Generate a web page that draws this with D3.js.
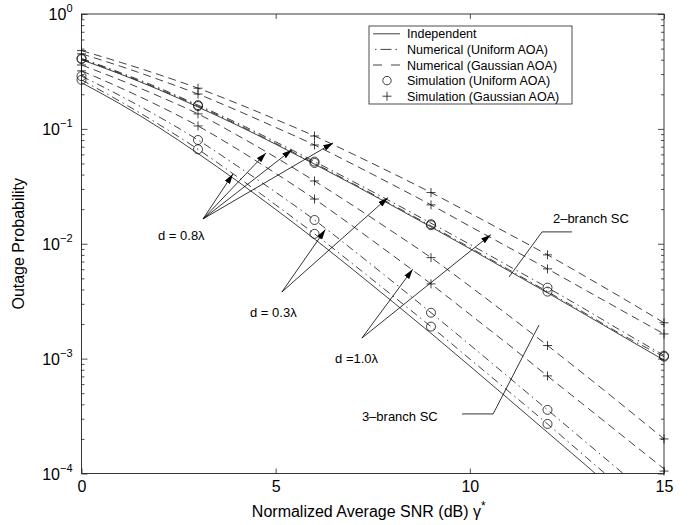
<!DOCTYPE html>
<html>
<head>
<meta charset="utf-8">
<script src="https://cdn.jsdelivr.net/npm/d3@7/dist/d3.min.js"></script>
<style>
  body { margin: 0; background: #fff; }
  svg text { font-family: "Liberation Sans", Arial, Helvetica, sans-serif; fill: #000; }
</style>
</head>
<body>
<div id="chart"></div>
<script>
// SNR grid of the numerical curves (dB)
const snr = [0, 1, 2, 3, 4, 5, 6, 7, 8, 9, 10, 11, 12, 13, 14, 15];
// SNR of the simulation points (dB)
const simSnr = [0, 3, 6, 9, 12, 15];

// 2-branch SC
const indep2 = [0.400, 0.300, 0.219, 0.155, 0.108, 0.0735, 0.0493, 0.0327, 0.0215, 0.0140, 0.00906, 0.00582, 0.00374, 0.00239, 0.00152, 0.00097];
const unif2a = [0.410, 0.309, 0.227, 0.161, 0.113, 0.0772, 0.0520, 0.0347, 0.0230, 0.0151, 0.00988, 0.00640, 0.00415, 0.00265, 0.00167, 0.00107];
const unif2b = [0.405, 0.304, 0.222, 0.158, 0.110, 0.0748, 0.0502, 0.0333, 0.0219, 0.0143, 0.00927, 0.00596, 0.00383, 0.00245, 0.00156, 0.00104];
const gaus2a = [0.480, 0.380, 0.296, 0.226, 0.167, 0.121, 0.0867, 0.0601, 0.0412, 0.0279, 0.0185, 0.0122, 0.0080, 0.00513, 0.00326, 0.00205];
const gaus2b = [0.450, 0.351, 0.268, 0.201, 0.145, 0.103, 0.0724, 0.0490, 0.0328, 0.0218, 0.0142, 0.00929, 0.00604, 0.00391, 0.00253, 0.00164];

// 3-branch SC
const indep3 = [0.2525, 0.1645, 0.1025, 0.0610, 0.0353, 0.0199, 0.0110, 0.00592, 0.00315, 0.00166, 0.000862, 0.000444, 0.000228, 0.000117, 0.0000594, 0.0000300];
const unif3a = [0.288, 0.194, 0.127, 0.080, 0.0478, 0.0281, 0.0161, 0.00877, 0.00472, 0.00251, 0.00132, 0.000689, 0.000358, 0.000186, 0.0000966, 0.0000501];
const unif3b = [0.267, 0.173, 0.109, 0.0664, 0.0385, 0.0218, 0.0122, 0.00661, 0.00355, 0.00190, 0.000993, 0.000519, 0.000270, 0.000138, 0.0000708, 0.0000363];
const gaus3a = [0.360, 0.266, 0.192, 0.135, 0.0885, 0.0565, 0.0352, 0.0214, 0.0128, 0.00757, 0.00427, 0.00237, 0.00130, 0.000705, 0.000377, 0.000200];
const gaus3b = [0.320, 0.228, 0.158, 0.106, 0.0670, 0.0410, 0.0245, 0.0141, 0.00798, 0.00447, 0.00243, 0.00132, 0.000706, 0.000380, 0.000204, 0.000110];

// simulation points
const simUnif2a = [0.410, 0.161, 0.0519, 0.0148, 0.00415, 0.00106];
const simUnif2b = [0.405, 0.158, 0.0505, 0.0145, 0.00383, 0.00104];
const simGaus2a = [0.480, 0.226, 0.0867, 0.0279, 0.0080, 0.00205];
const simGaus2b = [0.450, 0.201, 0.0724, 0.0218, 0.00604, 0.00164];
const simUnif3a = [0.288, 0.080, 0.0161, 0.00251, 0.000358, null];
const simUnif3b = [0.267, 0.0664, 0.0122, 0.00190, 0.000270, null];
const simGaus3a = [0.360, 0.135, 0.0352, 0.00757, 0.00130, 0.000200];
const simGaus3b = [0.320, 0.106, 0.0245, 0.00447, 0.000707, 0.000105];

const xTicks = [0, 5, 10, 15];
const yTicks = [1e-4, 1e-3, 1e-2, 1e-1, 1];
const yExps = ["\u22124", "\u22123", "\u22122", "\u22121", "0"];

const legendLabels = ["Independent", "Numerical (Uniform AOA)", "Numerical (Gaussian AOA)",
                      "Simulation (Uniform AOA)", "Simulation (Gaussian AOA)"];

// annotations, in data units: label, label position, arrow origin, arrow tips
const notes = [
  { text: "d = 0.8\u03bb", at: [1.97, 0.0108], from: [3.13, 0.01645],
    to: [[3.90, 0.0405], [4.75, 0.0618], [5.42, 0.0658], [6.48, 0.0755]] },
  { text: "d = 0.3\u03bb", at: [4.34, 0.00231], from: [5.16, 0.0038],
    to: [[6.28, 0.0133], [7.89, 0.0252]] },
  { text: "d =1.0\u03bb", at: [6.53, 0.000918], from: [7.22, 0.00151],
    to: [[8.53, 0.0060], [10.54, 0.0120]] }
];
const branchLabels = [
  { text: "2\u2013branch SC", at: [12.14, 0.0153], path: [[12.63, 0.01268], [11.86, 0.01268], [11.01, 0.00514]] },
  { text: "3\u2013branch SC", at: [7.22, 0.000284], path: [[9.80, 0.00033], [10.60, 0.00033], [11.78, 0.00196]] }
];

const W = 695, H = 525;
const margin = { left: 81.5, top: 14, right: 31, bottom: 51.5 };
const iw = W - margin.left - margin.right;
const ih = H - margin.top - margin.bottom;

const svg = d3.select("#chart").append("svg")
  .attr("width", W).attr("height", H);

const defs = svg.append("defs");
defs.append("clipPath").attr("id", "plotclip")
  .append("rect").attr("width", iw).attr("height", ih);
defs.append("marker").attr("id", "head")
  .attr("viewBox", "0 0 10 6").attr("refX", 10).attr("refY", 3)
  .attr("markerWidth", 10).attr("markerHeight", 6)
  .attr("markerUnits", "userSpaceOnUse").attr("orient", "auto")
  .append("path").attr("d", "M0,0L10,3L0,6Z").attr("fill", "#000");

const g = svg.append("g").attr("transform", `translate(${margin.left},${margin.top})`);

const x = d3.scaleLinear().domain([0, 15]).range([0, iw]);
const y = d3.scaleLog().domain([1e-4, 1]).range([ih, 0]);

const minorY = [];
yTicks.slice(0, -1).forEach(t => [2, 3, 4, 5, 6, 7, 8, 9].forEach(m => minorY.push(t * m)));

// axes (ticks point inward on all four sides)
const axisStyle = sel => {
  sel.select(".domain").remove();
  sel.selectAll("line").attr("stroke", "#222").attr("stroke-width", 0.8);
};
g.append("g").attr("transform", `translate(0,${ih})`)
  .call(d3.axisBottom(x).tickValues(xTicks).tickSize(-5).tickPadding(7).tickFormat(d3.format("d")))
  .call(axisStyle)
  .selectAll("text").attr("font-size", 16);
g.append("g")
  .call(d3.axisTop(x).tickValues(xTicks).tickSize(-5).tickFormat(""))
  .call(axisStyle);

const yLeft = g.append("g")
  .call(d3.axisLeft(y).tickValues(yTicks).tickSize(-6).tickPadding(9).tickFormat(""))
  .call(axisStyle);
yLeft.selectAll(".tick text").each(function(d, i) {
  const t = d3.select(this).attr("font-size", 16).attr("dy", "0.36em");
  t.append("tspan").text("10");
  t.append("tspan").attr("font-size", 11).attr("dy", "-0.75em").text(yExps[i]);
});
g.append("g").call(d3.axisLeft(y).tickValues(minorY).tickSize(-3).tickFormat("")).call(axisStyle);
g.append("g").attr("transform", `translate(${iw},0)`)
  .call(d3.axisRight(y).tickValues(yTicks).tickSize(-6).tickFormat("")).call(axisStyle);
g.append("g").attr("transform", `translate(${iw},0)`)
  .call(d3.axisRight(y).tickValues(minorY).tickSize(-3).tickFormat("")).call(axisStyle);

g.append("rect").attr("width", iw).attr("height", ih)
  .attr("fill", "none").attr("stroke", "#222").attr("stroke-width", 0.9);

// axis titles
svg.append("text").attr("x", margin.left + iw / 2 - 4).attr("y", 517)
  .attr("text-anchor", "middle").attr("font-size", 16)
  .text("Normalized Average SNR (dB) \u03b3")
  .append("tspan").attr("dy", "-0.6em").attr("font-size", 12).text("*");
svg.append("text").attr("transform", `translate(24,${margin.top + ih / 2}) rotate(-90)`)
  .attr("text-anchor", "middle").attr("font-size", 16).text("Outage Probability");

// curves
const dashed = "8,5", dashdot = "8,4,1.5,4";
const curves = [
  { v: indep2, dash: null }, { v: unif2a, dash: dashdot }, { v: unif2b, dash: dashdot },
  { v: gaus2a, dash: dashed }, { v: gaus2b, dash: dashed },
  { v: indep3, dash: null }, { v: unif3a, dash: dashdot }, { v: unif3b, dash: dashdot },
  { v: gaus3a, dash: dashed }, { v: gaus3b, dash: dashed }
];
const line = d3.line().curve(d3.curveMonotoneX)
  .x((d, i) => x(snr[i])).y(d => y(d));

g.append("g").attr("clip-path", "url(#plotclip)")
  .selectAll("path").data(curves).join("path")
  .attr("d", c => line(c.v))
  .attr("fill", "none").attr("stroke", "#111").attr("stroke-width", 0.8)
  .attr("stroke-dasharray", c => c.dash);

// simulation markers
const circles = [simUnif2a, simUnif2b, simUnif3a, simUnif3b];
const pluses = [simGaus2a, simGaus2b, simGaus3a, simGaus3b];
const pts = arr => arr.flatMap(s => s.map((v, i) => [simSnr[i], v]).filter(p => p[1] != null));

g.append("g").selectAll("circle").data(pts(circles)).join("circle")
  .attr("cx", d => x(d[0])).attr("cy", d => y(d[1])).attr("r", 4.5)
  .attr("fill", "none").attr("stroke", "#111").attr("stroke-width", 0.8);
g.append("g").selectAll("path").data(pts(pluses)).join("path")
  .attr("d", d => `M${x(d[0]) - 4.5},${y(d[1])}h9M${x(d[0])},${y(d[1]) - 4.5}v9`)
  .attr("stroke", "#111").attr("stroke-width", 0.8);

// annotations
const ann = g.append("g");
notes.forEach(n => {
  ann.append("text").attr("x", x(n.at[0])).attr("y", y(n.at[1]))
    .attr("font-size", 13).text(n.text);
  n.to.forEach(t => {
    ann.append("line")
      .attr("x1", x(n.from[0])).attr("y1", y(n.from[1]))
      .attr("x2", x(t[0])).attr("y2", y(t[1]))
      .attr("stroke", "#000").attr("stroke-width", 0.8)
      .attr("marker-end", "url(#head)");
  });
});
branchLabels.forEach(b => {
  ann.append("text").attr("x", x(b.at[0])).attr("y", y(b.at[1]))
    .attr("font-size", 13).text(b.text);
  ann.append("path").attr("d", d3.line().x(p => x(p[0])).y(p => y(p[1]))(b.path))
    .attr("fill", "none").attr("stroke", "#000").attr("stroke-width", 0.8);
});

// legend
const lg = svg.append("g").attr("transform", "translate(369,26)");
lg.append("rect").attr("width", 203).attr("height", 78)
  .attr("fill", "#fff").attr("stroke", "#222").attr("stroke-width", 0.8);
legendLabels.forEach((lab, i) => {
  const cy = 7.8 + i * 15.6;
  lg.append("text").attr("x", 38).attr("y", cy).attr("dy", "0.36em")
    .attr("font-size", 12.5).text(lab);
  if (i === 0) lg.append("line").attr("x1", 4).attr("x2", 31).attr("y1", cy).attr("y2", cy)
    .attr("stroke", "#111").attr("stroke-width", 0.8);
  if (i === 1) lg.append("line").attr("x1", 6).attr("x2", 28).attr("y1", cy).attr("y2", cy)
    .attr("stroke", "#111").attr("stroke-width", 0.8).attr("stroke-dasharray", "1.5,4,11,4,1.5");
  if (i === 2) lg.append("line").attr("x1", 4).attr("x2", 31).attr("y1", cy).attr("y2", cy)
    .attr("stroke", "#111").attr("stroke-width", 0.8).attr("stroke-dasharray", "9,9");
  if (i === 3) lg.append("circle").attr("cx", 18).attr("cy", cy).attr("r", 4.2)
    .attr("fill", "none").attr("stroke", "#111").attr("stroke-width", 0.8);
  if (i === 4) lg.append("path").attr("d", `M13.5,${cy}h9M18,${cy - 4.5}v9`)
    .attr("stroke", "#111").attr("stroke-width", 0.8);
});
</script>
</body>
</html>
